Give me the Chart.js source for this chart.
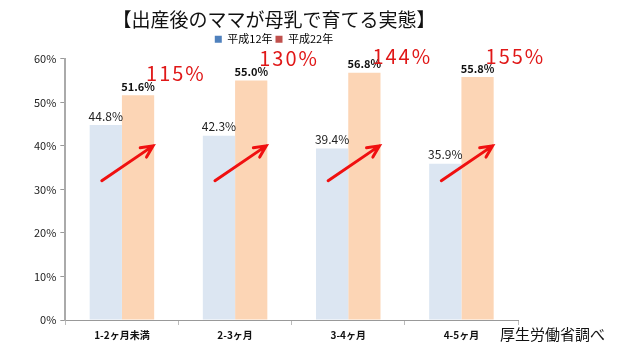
<!DOCTYPE html>
<html>
<head>
<meta charset="utf-8">
<script src="https://cdn.jsdelivr.net/npm/chart.js@4"></script>
<style>
  body { margin: 0; background: #fff; }
  #wrap { width: 634px; height: 359px; }
</style>
</head>
<body>
<div id="wrap"><canvas id="chart" width="634" height="359"></canvas></div>
<script>
const categories = ["1-2ヶ月未満", "2-3ヶ月", "3-4ヶ月", "4-5ヶ月"];
const h12 = [44.8, 42.3, 39.4, 35.9];
const h22 = [51.6, 55.0, 56.8, 55.8];
const ratios = ["115%", "130%", "144%", "155%"];
const yTicks = [0, 10, 20, 30, 40, 50, 60];

const JP = '"Noto Sans CJK JP", sans-serif';

// a bit more room under the legend
const legendGap = {
  id: "legendGap",
  afterInit(chart) {
    const lg = chart.legend;
    if (!lg) return;
    const fit = lg.fit;
    lg.fit = function () { fit.call(this); this.height += 4; };
  }
};

// value labels, red arrows, ratio texts, source note
const decor = {
  id: "decor",
  afterDatasetsDraw(chart) {
    const ctx = chart.ctx;
    const y = chart.scales.y;
    const m0 = chart.getDatasetMeta(0).data;
    const m1 = chart.getDatasetMeta(1).data;
    ctx.save();
    ctx.textBaseline = "bottom";
    ctx.textAlign = "center";
    m0.forEach((b, i) => {
      ctx.fillStyle = "#222";
      ctx.font = "12px " + JP;
      ctx.fillText(h12[i].toFixed(1) + "%", b.x, b.y - 3);
    });
    m1.forEach((b, i) => {
      ctx.fillStyle = "#111";
      ctx.font = "bold 11px " + JP;
      ctx.fillText(h22[i].toFixed(1) + "%", b.x, b.y - 3);
    });
    // arrows
    m0.forEach((b, i) => {
      const x1 = b.x - 4, y1 = y.getPixelForValue(32);
      const x2 = m1[i].x + 15, y2 = y.getPixelForValue(40);
      ctx.strokeStyle = "#f01010";
      ctx.lineWidth = 3;
      ctx.lineCap = "round";
      ctx.beginPath();
      ctx.moveTo(x1, y1);
      ctx.lineTo(x2, y2);
      const a = Math.atan2(y2 - y1, x2 - x1);
      ctx.moveTo(x2 - 13 * Math.cos(a - 0.45), y2 - 13 * Math.sin(a - 0.45));
      ctx.lineTo(x2, y2);
      ctx.lineTo(x2 - 13 * Math.cos(a + 0.45), y2 - 13 * Math.sin(a + 0.45));
      ctx.stroke();
    });
    // ratio labels
    ctx.fillStyle = "#e01818";
    ctx.font = "20px " + JP;
    ctx.textAlign = "left";
    ctx.textBaseline = "middle";
    m1.forEach((b, i) => {
      ctx.letterSpacing = "2px";
      const ty = Math.max(b.y - 22, chart.chartArea.top - 2);
      ctx.fillText(ratios[i], b.x + 8, ty);
    });
    ctx.letterSpacing = "0px";
    // source note
    ctx.fillStyle = "#111";
    ctx.font = "15px " + JP;
    ctx.textBaseline = "middle";
    ctx.fillText("厚生労働省調べ", 500, 334);
    ctx.restore();
  }
};

new Chart(document.getElementById("chart"), {
  type: "bar",
  data: {
    labels: categories,
    datasets: [
      { label: "平成12年", data: h12, backgroundColor: "#dce6f2", legendColor: "#4f81bd" },
      { label: "平成22年", data: h22, backgroundColor: "#fcd5b5", legendColor: "#c0504d" }
    ]
  },
  options: {
    responsive: false,
    animation: false,
    layout: { padding: { left: 30, right: 116, top: 3, bottom: 14 } },
    datasets: { bar: { categoryPercentage: 0.57, barPercentage: 1.0 } },
    plugins: {
      title: {
        display: true,
        text: "【出産後のママが母乳で育てる実態】",
        font: { family: JP, size: 19, weight: "normal" },
        color: "#111",
        padding: { top: 5, bottom: 0 }
      },
      legend: {
        display: true,
        labels: {
          font: { family: JP, size: 11 },
          color: "#222",
          boxWidth: 7,
          boxHeight: 7,
          padding: 3,
          generateLabels: (chart) => chart.data.datasets.map((d, i) => ({
            text: d.label,
            fillStyle: d.legendColor,
            strokeStyle: d.legendColor,
            lineWidth: 0,
            datasetIndex: i
          }))
        }
      },
      tooltip: { enabled: false }
    },
    scales: {
      x: {
        grid: { display: true, drawOnChartArea: false, offset: true, tickLength: 5, color: "#bbb" },
        border: { color: "#999", width: 1 },
        ticks: { font: { family: JP, size: 10, weight: "bold" }, color: "#111", padding: 4 }
      },
      y: {
        min: 0,
        max: 60,
        afterBuildTicks: (s) => { s.ticks = yTicks.map(v => ({ value: v })); },
        grid: { display: true, drawOnChartArea: false, tickLength: 5, color: "#999" },
        border: { color: "#aaa", width: 2 },
        ticks: {
          font: { family: JP, size: 11 },
          color: "#222",
          padding: 4,
          callback: (v) => v + "%"
        }
      }
    }
  },
  plugins: [legendGap, decor]
});
</script>
</body>
</html>
